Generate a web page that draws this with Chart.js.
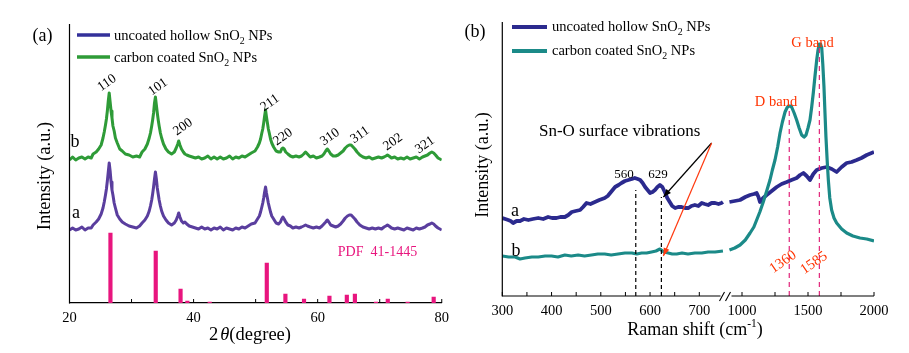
<!DOCTYPE html>
<html><head><meta charset="utf-8">
<script src="https://cdn.jsdelivr.net/npm/chart.js@4.4.0/dist/chart.umd.min.js"></script>
<style>
html,body{margin:0;padding:0;background:#fff;width:909px;height:353px;overflow:hidden}
#wa{position:absolute;left:0;top:0;width:455px;height:353px}
#wb{position:absolute;left:455px;top:0;width:454px;height:353px}
</style></head><body>
<div id="wa"><canvas id="ca" width="455" height="353"></canvas></div>
<div id="wb"><canvas id="cb" width="454" height="353"></canvas></div>
<script>
// ---------- (a) XRD data ----------
const xrdAngle = [20.0,20.5,21.0,21.5,22.0,22.5,23.0,23.5,23.8,24.3,
24.7,25.1,25.4,25.6,25.8,25.95,26.1,26.25,26.4,26.55,
26.7,26.85,27.0,27.2,27.4,27.7,28.1,28.5,29.0,29.6,
30.2,30.8,31.3,31.7,32.15,32.55,32.85,33.05,33.25,33.4,
33.55,33.7,33.85,34.0,34.15,34.3,34.45,34.65,34.85,35.15,
35.55,35.95,36.45,36.9,37.2,37.45,37.6,37.8,38.05,38.35,
38.6,38.9,39.3,39.8,40.3,40.8,41.3,41.8,42.3,42.8,
43.3,43.8,44.3,44.8,45.3,45.8,46.3,46.8,47.3,47.8,
48.3,48.8,49.3,49.9,50.3,50.6,50.8,51.0,51.15,51.3,
51.45,51.6,51.75,51.9,52.05,52.2,52.4,52.6,52.9,53.3,
53.7,54.0,54.2,54.4,54.6,54.85,55.2,55.6,56.0,56.5,
57.0,57.4,57.75,58.05,58.35,58.8,59.3,59.8,60.3,60.7,
61.0,61.3,61.55,61.8,62.1,62.5,62.9,63.3,63.7,64.1,
64.45,64.8,65.1,65.4,65.7,66.0,66.35,66.8,67.3,67.8,
68.3,68.8,69.3,69.8,70.3,70.7,71.0,71.25,71.5,71.9,
72.4,72.9,73.4,73.9,74.4,74.9,75.4,75.9,76.4,76.9,
77.3,77.7,78.1,78.4,78.7,79.0,79.4,79.7,80.0];
const xrdCoated = [143,146,143,145,146,144,146,145,149,151,
154,158,165,171,178,184,192,202,210,201,
192,185,177,172,165,160,154,152,149,148,
146,147,146,151,154,159,165,170,177,183,
190,200,206,198,190,183,177,170,165,159,
154,151,149,151,155,159,162,158,154,151,
149,148,147,146,145,146,144,145,147,144,
146,144,146,144,145,147,144,146,145,147,
146,148,150,152,156,160,164,170,174,180,
187,193,186,180,174,170,164,160,156,152,
151,151,154,155,154,151,149,147,146,147,
146,147,149,151,149,146,147,145,146,147,
149,152,154,152,149,147,147,148,150,152,
155,157,158,158,156,154,151,148,146,145,
146,144,145,146,145,146,147,148,147,145,
146,144,145,144,146,144,145,146,144,146,
147,148,150,151,150,148,145,144,143];
const xrdUncoated = [73,75,73,74,76,73,75,75,78,81,
84,89,95,101,108,114,122,131,140,132,
121,113,108,100,95,88,84,81,79,77,
76,75,77,80,83,87,92,97,103,109,
116,124,131,124,115,109,103,97,92,87,
83,80,78,80,83,87,90,86,82,80,
81,79,77,76,75,74,76,74,75,73,
75,74,76,73,75,74,73,75,74,76,
75,77,79,80,84,87,91,96,100,105,
111,116,110,105,100,96,91,87,84,80,
79,81,84,86,84,81,78,77,75,76,
75,76,77,78,77,76,75,76,75,77,
79,81,83,81,78,77,76,77,79,82,
85,87,88,88,86,84,81,78,76,75,
74,75,74,75,74,76,77,78,77,75,
74,75,74,73,75,74,73,75,74,75,
76,78,79,80,79,77,75,74,73];
const pdfAngle = [26.6,33.9,37.9,39.0,42.6,51.8,54.8,57.8,61.9,64.7,66.0,69.4,71.3,74.5,78.7];
const pdfIntensity = [70,52,14,2,1,40,9,4,7,8,9,1,4,1,6];
const xrdTickValues = [20,40,60,80];
const xrdMinorTicks = [20,30,40,50,60,70,80];
const hklLabels = ['110','101','200','211','220','310','311','202','321'];

// ---------- (b) Raman data ----------
const navyLeftX = [300,306,312,317,322,329,336,344,353,362,373,383,393,401,410,418,427,434,441,449,458,464,471,479,488,497,508,514,519,524,529,536,542,549,556,563,569,575,580,585,590,595,600,605,610,615,620,625,630,635,640,645,651,657,664,671,678,684,691,698,705,711,718,725,732,739,745,748];
const navyLeftY = [78,77,76,75,73,75,75,77,76,77,78,77,79,78,78,79,79,81,84,85,86,89,93,92,94,96,98,100,103,106,109,111,113,115,116,117,118,117,116,113,109,106,103,104,106,109,111,109,104,98,94,90,88,89,89,88,88,90,91,90,93,92,91,93,93,92,93,94];
const tealLeftX = [300,313,326,336,346,360,373,387,400,413,427,440,454,467,481,494,508,521,535,549,563,573,583,593,603,612,620,628,637,645,654,665,677,691,705,718,732,748];
const tealLeftY = [40,39,39,37,38,39,39,40,40,39,41,40,41,40,41,42,42,41,42,43,43,42,43,43,44,45,47,44,43,42,42,43,42,43,43,44,44,45];
const navyRightX = [905,945,985,1025,1061,1090,1111,1125,1136,1160,1187,1225,1263,1300,1339,1375,1414,1440,1465,1490,1515,1540,1566,1605,1642,1680,1717,1755,1793,1830,1869,1905,1945,2000];
const navyRightY = [94,95,96,99,101,102,103,99,94,98,101,105,109,112,114,116,118,121,123,120,116,122,126,128,129,127,124,129,133,134,136,138,141,144];
const tealRightX = [905,945,985,1025,1061,1090,1111,1135,1161,1187,1212,1230,1250,1270,1288,1306,1326,1340,1351,1363,1376,1395,1414,1433,1452,1470,1485,1500,1515,1528,1540,1553,1566,1576,1586,1595,1604,1612,1621,1628,1636,1645,1654,1665,1679,1697,1717,1755,1793,1840,1894,1945,2000];
const tealRightY = [46,48,51,56,63,69,76,84,94,105,116,126,136,149,163,174,184,188,190,190,189,183,176,168,161,159,161,168,176,189,203,220,236,246,252,252,248,232,209,185,159,136,116,98,86,78,73,67,63,60,58,57,55];
const ramanTickValues = [300,400,500,600,700,1000,1500,2000];
const ramanMinorTicks = [300,350,400,450,500,550,600,650,700,1000,1250,1500,1750,2000];
const blackDashX = [571,623], blackDashTop = [106,99];
const bandDashX = [1358,1586], bandDashTop = [187,248];
const arrowFrom = [725,153], arrowToBlack = [627,99], arrowToRed = [627,40];

// broken x axis: 300-750 linear, then 900-2000 compressed
function u(x){ return x <= 800 ? x : 786.7 + (x - 1000) * 0.268; }

const SERIF = '"Liberation Serif","Times New Roman",serif';
Chart.defaults.font.family = SERIF;
Chart.defaults.color = '#000';

function txt(ctx, s, x, y, size, color, o){
  o = o || {};
  ctx.save();
  ctx.font = (o.italic ? 'italic ' : '') + size + 'px ' + SERIF;
  ctx.fillStyle = color || '#000';
  ctx.textAlign = o.align || 'center';
  ctx.textBaseline = o.baseline || 'middle';
  ctx.translate(x, y);
  if (o.rot) ctx.rotate(o.rot * Math.PI / 180);
  ctx.fillText(s, 0, 0);
  ctx.restore();
}
function subLabel(ctx, pre, post, x, y, size){
  ctx.save(); ctx.fillStyle = '#000'; ctx.textBaseline = 'alphabetic'; ctx.textAlign = 'left';
  ctx.font = size + 'px ' + SERIF; ctx.fillText(pre, x, y); let w = ctx.measureText(pre).width;
  ctx.font = (size * 0.68) + 'px ' + SERIF; ctx.fillText('2', x + w, y + size * 0.28); w += ctx.measureText('2').width;
  ctx.font = size + 'px ' + SERIF; ctx.fillText(post, x + w, y);
  ctx.restore();
}
function line(ctx, x1, y1, x2, y2, color, w, dash){
  ctx.save(); ctx.strokeStyle = color; ctx.lineWidth = w; ctx.setLineDash(dash || []);
  ctx.beginPath(); ctx.moveTo(x1, y1); ctx.lineTo(x2, y2); ctx.stroke(); ctx.restore();
}
function arrow(ctx, x1, y1, x2, y2, color){
  line(ctx, x1, y1, x2, y2, color, 1.2);
  const a = Math.atan2(y2 - y1, x2 - x1), L = 8, H = 3;
  ctx.save(); ctx.fillStyle = color; ctx.beginPath();
  ctx.moveTo(x2, y2);
  ctx.lineTo(x2 - L * Math.cos(a) + H * Math.sin(a), y2 - L * Math.sin(a) - H * Math.cos(a));
  ctx.lineTo(x2 - L * Math.cos(a) - H * Math.sin(a), y2 - L * Math.sin(a) + H * Math.cos(a));
  ctx.closePath(); ctx.fill(); ctx.restore();
}

// ---------- chart (a) ----------
const plugA = {
  id: 'decoA',
  afterDraw(chart){
    const ctx = chart.ctx, ca = chart.chartArea, xs = chart.scales.x;
    line(ctx, ca.left, ca.top, ca.left, ca.bottom + 0.5, '#000', 1.2);
    xrdMinorTicks.forEach(v => { const p = xs.getPixelForValue(v); line(ctx, p, ca.bottom, p, ca.bottom - 4, '#000', 1); });
    txt(ctx, '(a)', 42.5, 36, 18);
    line(ctx, 77, 35, 110, 35, '#33309A', 3.5);
    line(ctx, 77, 57, 110, 57, '#2E9B37', 3.5);
    subLabel(ctx, 'uncoated hollow SnO', ' NPs', 114, 40, 14.5);
    subLabel(ctx, 'carbon coated SnO', ' NPs', 114, 62, 14.5);
    const hp = [[107,83],[158,87],[183,127],[270,103],[283,137],[330,137],[360,135],[393,142],[425,145]];
    hklLabels.forEach((s, i) => txt(ctx, s, hp[i][0], hp[i][1], 13.5, '#000', {rot: -35}));
    txt(ctx, 'b', 75, 142, 18);
    txt(ctx, 'a', 76, 213, 18);
    txt(ctx, 'PDF  41-1445', 377.5, 252, 14, '#E8157E');
    txt(ctx, 'Intensity (a.u.)', 45, 176, 18.5, '#000', {rot: -90});
    ctx.save(); ctx.textBaseline = 'alphabetic'; ctx.textAlign = 'left'; ctx.fillStyle = '#000';
    ctx.font = '18.5px ' + SERIF; const w2 = ctx.measureText('2').width;
    ctx.font = 'italic 18.5px ' + SERIF; const wt = ctx.measureText('\u03b8').width;
    ctx.font = '18.5px ' + SERIF; const wd = ctx.measureText('(degree)').width;
    let x0 = 250 - (w2 + 2 + wt + wd) / 2;
    ctx.fillText('2', x0, 340); x0 += w2 + 2;
    ctx.font = 'italic 18.5px ' + SERIF; ctx.fillText('\u03b8', x0, 340); x0 += wt;
    ctx.font = '18.5px ' + SERIF; ctx.fillText('(degree)', x0, 340);
    ctx.restore();
  }
};
new Chart(document.getElementById('ca'), {
  type: 'line',
  data: { datasets: [
    { label: 'carbon coated SnO2 NPs', data: xrdAngle.map((x, i) => ({x, y: xrdCoated[i]})),
      borderColor: '#2E9B37', borderWidth: 3, pointRadius: 0, tension: 0, borderJoinStyle: 'round' },
    { label: 'uncoated hollow SnO2 NPs', data: xrdAngle.map((x, i) => ({x, y: xrdUncoated[i]})),
      borderColor: '#5A3E9E', borderWidth: 3, pointRadius: 0, tension: 0, borderJoinStyle: 'round' },
    { type: 'bar', label: 'PDF 41-1445', data: pdfAngle.map((x, i) => ({x, y: pdfIntensity[i]})),
      backgroundColor: '#E8157E', barThickness: 3.5, borderWidth: 0 }
  ]},
  options: {
    responsive: false, animation: false, devicePixelRatio: 1,
    layout: { padding: { left: 69.5, right: 8, top: 24, bottom: 0 } },
    plugins: { legend: { display: false }, tooltip: { enabled: false } },
    scales: {
      x: { type: 'linear', min: 20, max: 80, offset: false,
        grid: { display: false, drawTicks: false },
        border: { display: true, color: '#000', width: 1.2 },
        ticks: { stepSize: 20, padding: 6, font: { size: 14.5 }, color: '#000', maxRotation: 0, autoSkip: false },
        afterBuildTicks: s => { s.ticks = xrdTickValues.map(v => ({value: v})); },
        afterFit: s => { s.height = 50; } },
      y: { display: false, min: 0, max: 279 }
    }
  },
  plugins: [plugA]
});

// ---------- chart (b) ----------
const OX = 455;
const plugB = {
  id: 'decoB',
  afterDatasetsDraw(chart){
    const ctx = chart.ctx, xs = chart.scales.x, ys = chart.scales.y;
    blackDashX.forEach((v, i) => { const p = xs.getPixelForValue(u(v));
      line(ctx, p, ys.getPixelForValue(0), p, ys.getPixelForValue(blackDashTop[i]), '#000', 1.2, [4, 3]); });
    bandDashX.forEach((v, i) => { const p = xs.getPixelForValue(u(v));
      line(ctx, p, ys.getPixelForValue(0), p, ys.getPixelForValue(bandDashTop[i]), '#E0257A', 1.2, [5, 4]); });
    const sx = xs.getPixelForValue(u(arrowFrom[0])), sy = ys.getPixelForValue(arrowFrom[1]);
    arrow(ctx, sx, sy, xs.getPixelForValue(u(arrowToBlack[0])), ys.getPixelForValue(arrowToBlack[1]), '#000');
    arrow(ctx, sx, sy, xs.getPixelForValue(u(arrowToRed[0])), ys.getPixelForValue(arrowToRed[1]), '#FF3A10');
  },
  afterDraw(chart){
    const ctx = chart.ctx, ca = chart.chartArea, xs = chart.scales.x;
    ctx.save(); ctx.translate(-OX, 0);
    const L = ca.left + OX, R = ca.right + OX, B = ca.bottom, T = ca.top;
    line(ctx, L, T, L, B + 0.5, '#000', 1.2);
    line(ctx, L, B, 720.5, B, '#000', 1.2);
    line(ctx, 731.5, B, R, B, '#000', 1.2);
    line(ctx, 719.5, B + 5, 724.5, B - 4, '#000', 1.1);
    line(ctx, 725.5, B + 5, 730.5, B - 4, '#000', 1.1);
    ramanMinorTicks.forEach(v => { const p = xs.getPixelForValue(u(v)) + OX; line(ctx, p, B, p, B - 4, '#000', 1); });
    txt(ctx, '(b)', 475, 32, 18);
    line(ctx, 512, 27, 547, 27, '#2B2A8E', 4);
    line(ctx, 512, 51, 547, 51, '#1B8A88', 4);
    subLabel(ctx, 'uncoated hollow SnO', ' NPs', 552, 31, 14.5);
    subLabel(ctx, 'carbon coated SnO', ' NPs', 552, 55, 14.5);
    txt(ctx, 'Sn-O surface vibrations', 619.7, 132, 17);
    txt(ctx, '560', 624, 174.5, 13);
    txt(ctx, '629', 658, 174.5, 13);
    txt(ctx, 'a', 515, 211, 18);
    txt(ctx, 'b', 516, 251, 18);
    txt(ctx, 'D band', 776, 102, 14.5, '#FF3300');
    txt(ctx, 'G band', 812.5, 43.5, 14.5, '#FF3300');
    txt(ctx, '1360', 783, 262, 14.5, '#FF3300', {rot: -35});
    txt(ctx, '1585', 814, 263, 14.5, '#FF3300', {rot: -35});
    txt(ctx, 'Intensity (a.u.)', 483, 165, 18, '#000', {rot: -90});
    ctx.textBaseline = 'alphabetic'; ctx.textAlign = 'left'; ctx.fillStyle = '#000';
    ctx.font = '18px ' + SERIF; const a1 = ctx.measureText('Raman shift (cm').width, a3 = ctx.measureText(')').width;
    ctx.font = '11.5px ' + SERIF; const a2 = ctx.measureText('-1').width;
    let x0 = 695 - (a1 + a2 + a3) / 2;
    ctx.font = '18px ' + SERIF; ctx.fillText('Raman shift (cm', x0, 335); x0 += a1;
    ctx.font = '11.5px ' + SERIF; ctx.fillText('-1', x0, 327); x0 += a2;
    ctx.font = '18px ' + SERIF; ctx.fillText(')', x0, 335);
    ctx.restore();
  }
};
const seg = (lx, ly, rx, ry) => lx.map((x, i) => ({x: u(x), y: ly[i]}))
  .concat([{x: u(760), y: null}])
  .concat(rx.map((x, i) => ({x: u(x), y: ry[i]})));
new Chart(document.getElementById('cb'), {
  type: 'line',
  data: { datasets: [
    { label: 'carbon coated SnO2 NPs', data: seg(tealLeftX, tealLeftY, tealRightX, tealRightY),
      borderColor: '#1B8A88', borderWidth: 3.2, pointRadius: 0, tension: 0, spanGaps: false, borderJoinStyle: 'round', order: 0 },
    { label: 'uncoated hollow SnO2 NPs', data: seg(navyLeftX, navyLeftY, navyRightX, navyRightY),
      borderColor: '#2B2A8E', borderWidth: 3.8, pointRadius: 0, tension: 0, spanGaps: false, borderJoinStyle: 'round', order: 1 }
  ]},
  options: {
    responsive: false, animation: false, devicePixelRatio: 1,
    layout: { padding: { left: 47.3, right: 35, top: 22, bottom: 0 } },
    plugins: { legend: { display: false }, tooltip: { enabled: false } },
    scales: {
      x: { type: 'linear', min: 300, max: u(2000), offset: false,
        grid: { display: false, drawTicks: false },
        border: { display: false },
        ticks: { padding: 6, font: { size: 14.5 }, color: '#000', maxRotation: 0, autoSkip: false,
          callback: (v, i) => String(ramanTickValues[i]) },
        afterBuildTicks: s => { s.ticks = ramanTickValues.map(v => ({value: u(v)})); },
        afterFit: s => { s.height = 57; } },
      y: { display: false, min: 0, max: 274 }
    }
  },
  plugins: [plugB]
});
</script>
</body></html>
